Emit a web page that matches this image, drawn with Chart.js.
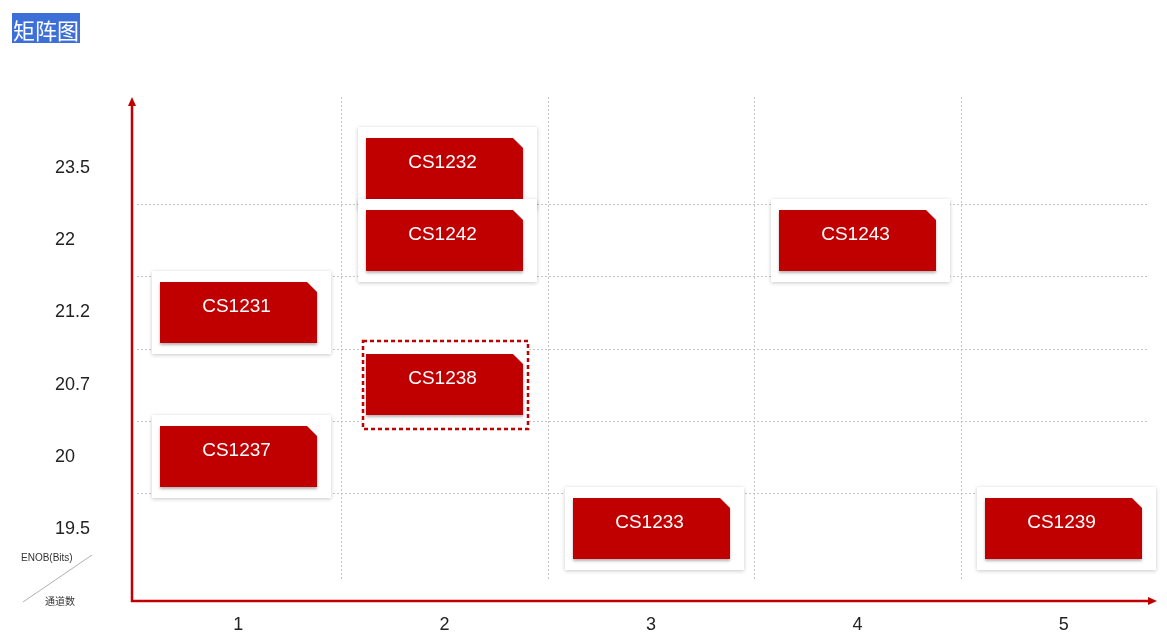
<!DOCTYPE html>
<html>
<head>
<meta charset="utf-8">
<script src="https://cdn.jsdelivr.net/npm/chart.js@4.4.0/dist/chart.umd.min.js"></script>
<style>
  html, body { margin: 0; padding: 0; background: #fff; }
  #wrap { position: relative; width: 1167px; height: 640px; }
  #title {
    position: absolute; left: 12px; top: 13px; height: 30px; line-height: 30px;
    padding: 0 1px; background: #3d6fd9; color: #fff;
    font: 22px "Noto Sans CJK SC", sans-serif;
  }
</style>
</head>
<body>
<div id="wrap">
  <div id="title">矩阵图</div>
  <canvas id="matrixChart" width="1167" height="640"></canvas>
</div>
<script>
// 通道数 (x) en ENOB (y) categorieen
const channelLabels = ['1', '2', '3', '4', '5'];
const enobLabels = ['23.5', '22', '21.2', '20.7', '20', '19.5'];

// chips in de matrix
const chipNames    = ['CS1232', 'CS1242', 'CS1231', 'CS1238', 'CS1237', 'CS1233', 'CS1243', 'CS1239'];
const chipChannels = ['2',      '2',      '1',      '2',      '1',      '3',      '4',      '5'];
const chipEnob     = ['23.5',   '22',     '21.2',   '20.7',   '20',     '19.5',   '22',     '19.5'];
const highlighted = 'CS1238';

const RED = '#c00000';
const FONT = '"Liberation Sans", "Noto Sans CJK SC", sans-serif';

// rasterlijnen tussen de categorieen + assen met pijl
const matrixGrid = {
  id: 'matrixGrid',
  beforeDatasetsDraw(chart) {
    const { ctx, chartArea: a, scales: { x, y } } = chart;
    ctx.save();
    ctx.strokeStyle = '#c4c4c4';
    ctx.lineWidth = 1;
    ctx.setLineDash([2, 2]);
    for (let i = 0; i < channelLabels.length - 1; i++) {
      const px = Math.round((x.getPixelForTick(i) + x.getPixelForTick(i + 1)) / 2) + 0.5;
      ctx.beginPath();
      ctx.moveTo(px, a.top - 35);
      ctx.lineTo(px, a.bottom + 15);
      ctx.stroke();
    }
    for (let i = 0; i < enobLabels.length - 1; i++) {
      const py = Math.round((y.getPixelForTick(i) + y.getPixelForTick(i + 1)) / 2) + 0.5;
      ctx.beginPath();
      ctx.moveTo(a.left + 2, py);
      ctx.lineTo(a.right - 20, py);
      ctx.stroke();
    }
    ctx.restore();
  },
  afterDraw(chart) {
    const { ctx, chartArea: a } = chart;
    const ox = a.left - 3, oy = a.bottom + 36;
    const top = a.top - 35, right = a.right - 10;
    ctx.save();
    ctx.strokeStyle = RED;
    ctx.fillStyle = RED;
    ctx.lineWidth = 2.5;
    ctx.beginPath();
    ctx.moveTo(ox, top + 6);
    ctx.lineTo(ox, oy);
    ctx.lineTo(right - 6, oy);
    ctx.stroke();
    ctx.beginPath();
    ctx.moveTo(ox, top); ctx.lineTo(ox - 4, top + 9); ctx.lineTo(ox + 4, top + 9); ctx.closePath();
    ctx.fill();
    ctx.beginPath();
    ctx.moveTo(right, oy); ctx.lineTo(right - 9, oy - 4); ctx.lineTo(right - 9, oy + 4); ctx.closePath();
    ctx.fill();

    // hoek-label ENOB / 通道数
    ctx.strokeStyle = '#b0b0b0';
    ctx.lineWidth = 1;
    ctx.beginPath();
    ctx.moveTo(23, 602);
    ctx.lineTo(92, 555);
    ctx.stroke();
    ctx.fillStyle = '#333';
    ctx.font = '10px ' + FONT;
    ctx.textBaseline = 'middle';
    ctx.textAlign = 'left';
    ctx.fillText('ENOB(Bits)', 21, 558);
    ctx.fillText('通道数', 45, 602);
    ctx.restore();
  }
};

// kaartjes op de datapunten
const chipCards = {
  id: 'chipCards',
  afterDatasetsDraw(chart) {
    const { ctx } = chart;
    const meta = chart.getDatasetMeta(0);
    const w = 157, h = 61, fold = 10;
    meta.data.forEach((pt, i) => {
      const l = Math.round(pt.x - w / 2), t = Math.round(pt.y - h / 2);
      const r = l + w, b = t + h;
      ctx.save();
      if (chipNames[i] === highlighted) {
        ctx.fillStyle = '#fff';
        ctx.fillRect(l - 3, t - 13, w + 8, h + 27);
        ctx.lineWidth = 2.5;
        ctx.strokeStyle = '#fff';
        ctx.strokeRect(l - 3, t - 13, w + 8, h + 27);
        ctx.strokeStyle = RED;
        ctx.setLineDash([4, 3]);
        ctx.strokeRect(l - 3, t - 13, w + 8, h + 27);
        ctx.setLineDash([]);
      } else {
        ctx.shadowColor = 'rgba(0,0,0,0.22)';
        ctx.shadowBlur = 4;
        ctx.shadowOffsetY = 1;
        ctx.fillStyle = '#fff';
        ctx.fillRect(l - 8, t - 11, w + 22, h + 22);
      }
      ctx.shadowColor = 'rgba(0,0,0,0.3)';
      ctx.shadowBlur = 3;
      ctx.shadowOffsetY = 2;
      ctx.fillStyle = RED;
      ctx.beginPath();
      ctx.moveTo(l, t);
      ctx.lineTo(r - fold, t);
      ctx.lineTo(r, t + fold);
      ctx.lineTo(r, b);
      ctx.lineTo(l, b);
      ctx.closePath();
      ctx.fill();
      ctx.shadowColor = 'transparent';
      ctx.fillStyle = '#fff';
      ctx.font = '19px ' + FONT;
      ctx.textAlign = 'center';
      ctx.textBaseline = 'middle';
      ctx.fillText(chipNames[i], l + w / 2 - 2, t + 25);
      ctx.restore();
    });
  }
};

const ctx = document.getElementById('matrixChart').getContext('2d');
new Chart(ctx, {
  type: 'scatter',
  data: {
    datasets: [{
      label: 'chips',
      data: chipNames.map((n, i) => ({ x: chipChannels[i], y: chipEnob[i] })),
      pointRadius: 0,
      pointHoverRadius: 0
    }]
  },
  options: {
    responsive: false,
    animation: false,
    events: [],
    layout: { padding: { left: 55, top: 132, right: 0, bottom: 0 } },
    plugins: {
      legend: { display: false },
      title: { display: false },
      tooltip: { enabled: false }
    },
    scales: {
      x: {
        type: 'category',
        labels: channelLabels,
        offset: true,
        grid: { display: false, drawTicks: false },
        border: { display: false },
        ticks: { color: '#222', font: { size: 18, family: FONT }, padding: 49 },
        afterFit: s => { s.height = 75; }
      },
      y: {
        type: 'category',
        labels: enobLabels,
        offset: true,
        grid: { display: false, drawTicks: false },
        border: { display: false },
        ticks: { color: '#222', font: { size: 18, family: FONT }, crossAlign: 'far', padding: 10 },
        afterFit: s => { s.width = 80; }
      }
    }
  },
  plugins: [matrixGrid, chipCards]
});
</script>
</body>
</html>
